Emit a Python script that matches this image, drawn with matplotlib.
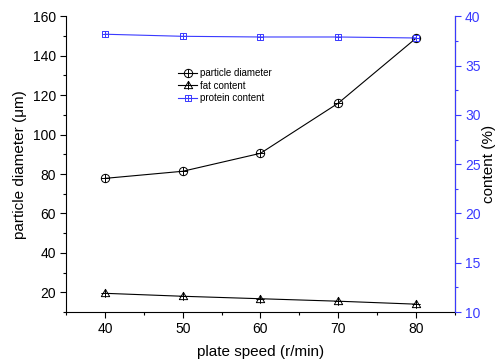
"""
Plate speed vs particle diameter and fat/protein content.
"""

import matplotlib
matplotlib.use('Agg')
import matplotlib.pyplot as plt
from matplotlib.path import Path
from matplotlib.ticker import MultipleLocator

plt.rcParams['font.family'] = ['Liberation Sans', 'DejaVu Sans']

# Data
plate_speed = [40, 50, 60, 70, 80]
particle_diameter = [77.8, 81.4, 90.5, 115.9, 148.8]
fat_content = [11.9, 11.6, 11.35, 11.1, 10.8]
protein_content = [38.18, 37.97, 37.9, 37.9, 37.8]

BLUE = '#3a3aff'


def crossed(outline):
    """Outline path with a plus sign inside."""
    cross = Path([[-1, 0], [1, 0], [0, -1], [0, 1]],
                 [Path.MOVETO, Path.LINETO, Path.MOVETO, Path.LINETO])
    return Path.make_compound_path(outline, cross)


circle_plus = crossed(Path.unit_circle())
tri_plus = crossed(Path([[0, 1], [-1, -0.75], [1, -0.75], [0, 1]], closed=True))
square_plus = crossed(Path.unit_rectangle().transformed(
    matplotlib.transforms.Affine2D().translate(-0.5, -0.5).scale(2)))

fig, ax = plt.subplots(figsize=(4.98, 3.62), dpi=100)
fig.subplots_adjust(left=0.133, right=0.913, top=0.955, bottom=0.138)
ax2 = ax.twinx()

l1, = ax.plot(plate_speed, particle_diameter, color='black', linewidth=0.8,
              marker=circle_plus, markersize=6, mfc='none', mec='black', mew=0.7,
              label='particle diameter')
l2, = ax2.plot(plate_speed, fat_content, color='black', linewidth=0.8,
               marker=tri_plus, markersize=6, mfc='none', mec='black', mew=0.7,
               label='fat content')
l3, = ax2.plot(plate_speed, protein_content, color=BLUE, linewidth=0.8,
               marker=square_plus, markersize=5, mfc='none', mec=BLUE, mew=0.7,
               label='protein content')

ax.set_xlim(35, 85)
ax.set_ylim(10, 160)
ax2.set_ylim(10, 40)

ax.xaxis.set_major_locator(MultipleLocator(10))
ax.xaxis.set_minor_locator(MultipleLocator(5))
ax.yaxis.set_major_locator(MultipleLocator(20))
ax.yaxis.set_minor_locator(MultipleLocator(10))
ax2.yaxis.set_major_locator(MultipleLocator(5))
ax2.yaxis.set_minor_locator(MultipleLocator(2.5))

for a in (ax, ax2):
    a.spines['top'].set_visible(False)
ax2.spines['left'].set_visible(False)
ax2.spines['bottom'].set_visible(False)
ax2.spines['right'].set_color(BLUE)

ax.tick_params(which='major', direction='out', length=4, width=0.8, labelsize=10)
ax.tick_params(which='minor', direction='out', length=2.5, width=0.8)
ax2.tick_params(which='major', direction='out', length=4, width=0.8, labelsize=10,
                colors=BLUE)
ax2.tick_params(which='minor', direction='out', length=2.5, width=0.8, colors=BLUE)

ax.set_xlabel('plate speed (r/min)', fontsize=11, labelpad=6)
ax.set_ylabel('particle diameter (μm)', fontsize=11)
ax2.set_ylabel('content (%)', fontsize=11, labelpad=1)

ax.legend(handles=[l1, l2, l3], loc='upper left', bbox_to_anchor=(0.275, 0.84),
          frameon=False, fontsize=7, handlelength=2.0, handletextpad=0.3,
          labelspacing=0.25, borderpad=0)

plt.savefig('out.png', dpi=100)
plt.close()
